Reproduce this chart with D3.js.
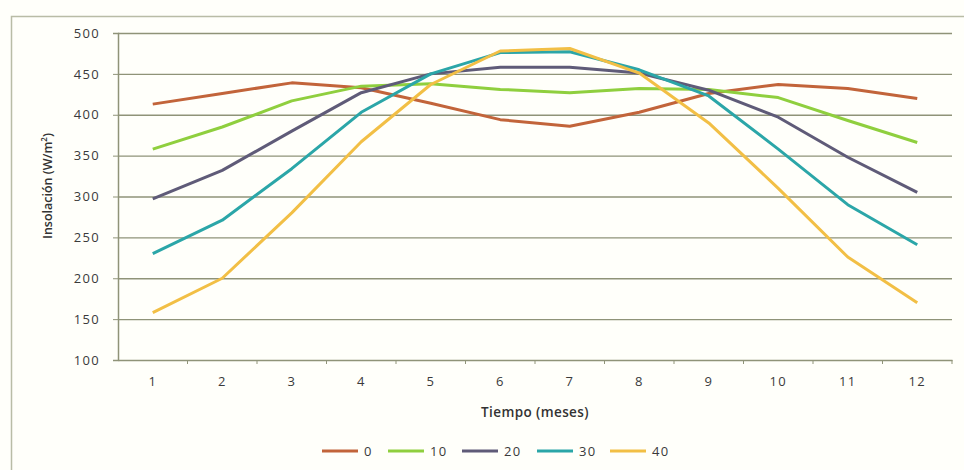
<!DOCTYPE html>
<html>
<head>
<meta charset="utf-8">
<script src="https://cdn.jsdelivr.net/npm/d3@7"></script>
<style>
  body { margin: 0; background: #fffffa; }
  text { font-family: "Open Sans", "DejaVu Sans", sans-serif; }
</style>
</head>
<body>
<div id="chart"></div>
<script>
// data
var months = [1, 2, 3, 4, 5, 6, 7, 8, 9, 10, 11, 12];
var latitudes = ["0", "10", "20", "30", "40"];
var lat0 = [413, 426, 439, 433, 414, 394, 386, 403, 426, 437, 432, 420];
var lat10 = [358, 385, 417, 435, 438, 431, 427, 432, 431, 421, 393, 366];
var lat20 = [297, 332, 380, 427, 450, 458, 458, 451, 430, 397, 348, 305];
var lat30 = [230, 271, 334, 403, 450, 476, 477, 455, 423, 358, 290, 241];
var lat40 = [158, 200, 280, 367, 437, 478, 481, 451, 390, 310, 226, 170];
var yTicks = [100, 150, 200, 250, 300, 350, 400, 450, 500];
var colors = ["#c2643a", "#8fcf3e", "#5f5b78", "#2ba6a8", "#f2bf45"];

var series = [lat0, lat10, lat20, lat30, lat40].map(function (vals, i) {
    return { name: latitudes[i], values: vals };
});

// set the dimensions and margins of the graph
var margin = { top: 33, right: 12, bottom: 110, left: 118 },
    width = 964 - margin.left - margin.right,
    height = 470 - margin.top - margin.bottom;

var root = d3.select("#chart")
    .append("svg")
    .attr("width", 964)
    .attr("height", 470);

// outer chart border (cropped on right and bottom)
root.append("rect")
    .attr("x", 11.5)
    .attr("y", 16.5)
    .attr("width", 1000)
    .attr("height", 500)
    .attr("fill", "#fffffa")
    .attr("stroke", "#b9bca6")
    .attr("stroke-width", 1.5);

var svg = root.append("g")
    .attr("transform", "translate(" + margin.left + "," + margin.top + ")");

var x = d3.scaleBand()
    .domain(months)
    .range([0, width]);

var y = d3.scaleLinear()
    .domain([100, 500])
    .range([height, 0]);

// gridlines
svg.append("g")
    .selectAll("line")
    .data(yTicks.filter(function (d) { return d > 100; }))
    .enter()
    .append("line")
    .attr("x1", 0)
    .attr("x2", width)
    .attr("y1", function (d) { return y(d) + 0.5; })
    .attr("y2", function (d) { return y(d) + 0.5; })
    .attr("stroke", "#8f9378")
    .attr("stroke-width", 1.3);

// Y axis
var yAxis = svg.append("g")
    .call(d3.axisLeft(y).tickValues(yTicks).tickSize(5).tickPadding(13));
yAxis.select(".domain").attr("stroke", "#8f9378").attr("stroke-width", 1.5);
yAxis.selectAll(".tick line").attr("stroke", "#8f9378");
yAxis.selectAll("text")
    .attr("fill", "#3a3a3a")
    .style("font-size", "13px")
    .style("letter-spacing", "1.3px");

// X axis
var xAxis = svg.append("g")
    .attr("transform", "translate(0," + height + ")")
    .call(d3.axisBottom(x).tickSize(0).tickPadding(17));
xAxis.select(".domain").attr("stroke", "#8f9378").attr("stroke-width", 1.5);
xAxis.selectAll("text")
    .attr("fill", "#3a3a3a")
    .style("font-size", "13px")
    .style("letter-spacing", "1.3px");

// small ticks at band boundaries
svg.append("g")
    .selectAll("line")
    .data(months)
    .enter()
    .append("line")
    .attr("x1", function (d) { return x(d) + x.bandwidth(); })
    .attr("x2", function (d) { return x(d) + x.bandwidth(); })
    .attr("y1", height)
    .attr("y2", height + 4)
    .attr("stroke", "#8f9378");

// axis titles
svg.append("text")
    .attr("x", 535 - margin.left)
    .attr("y", height + 57)
    .style("text-anchor", "middle")
    .style("font-size", "13.5px")
    .style("font-weight", "600")
    .style("letter-spacing", "0.4px")
    .attr("fill", "#333")
    .text("Tiempo (meses)");

svg.append("text")
    .attr("transform", "rotate(-90)")
    .attr("x", -(186 - margin.top))
    .attr("y", 52 - margin.left)
    .style("text-anchor", "middle")
    .style("font-size", "12.5px")
    .style("font-weight", "600")
    .attr("fill", "#333")
    .html("Insolación (W/m<tspan baseline-shift='super' font-size='8px'>2</tspan>)");

// lines
var line = d3.line()
    .x(function (d, i) { return x(months[i]) + x.bandwidth() / 2; })
    .y(function (d) { return y(d); });

svg.append("g")
    .selectAll("path")
    .data(series)
    .enter()
    .append("path")
    .attr("d", function (d) { return line(d.values); })
    .attr("fill", "none")
    .attr("stroke", function (d, i) { return colors[i]; })
    .attr("stroke-width", 3)
    .attr("stroke-linejoin", "round");

// legend
var legendX = [322, 388, 462, 537, 610];
var legend = root.append("g").attr("transform", "translate(0,451)");

legend.selectAll("line")
    .data(latitudes)
    .enter()
    .append("line")
    .attr("x1", function (d, i) { return legendX[i]; })
    .attr("x2", function (d, i) { return legendX[i] + 36; })
    .attr("y1", 0)
    .attr("y2", 0)
    .attr("stroke", function (d, i) { return colors[i]; })
    .attr("stroke-width", 3);

legend.selectAll("text")
    .data(latitudes)
    .enter()
    .append("text")
    .attr("x", function (d, i) { return legendX[i] + 42; })
    .attr("y", 0)
    .attr("dy", "0.35em")
    .style("font-size", "13px")
    .style("letter-spacing", "1.3px")
    .attr("fill", "#3a3a3a")
    .text(function (d) { return d; });
</script>
</body>
</html>
